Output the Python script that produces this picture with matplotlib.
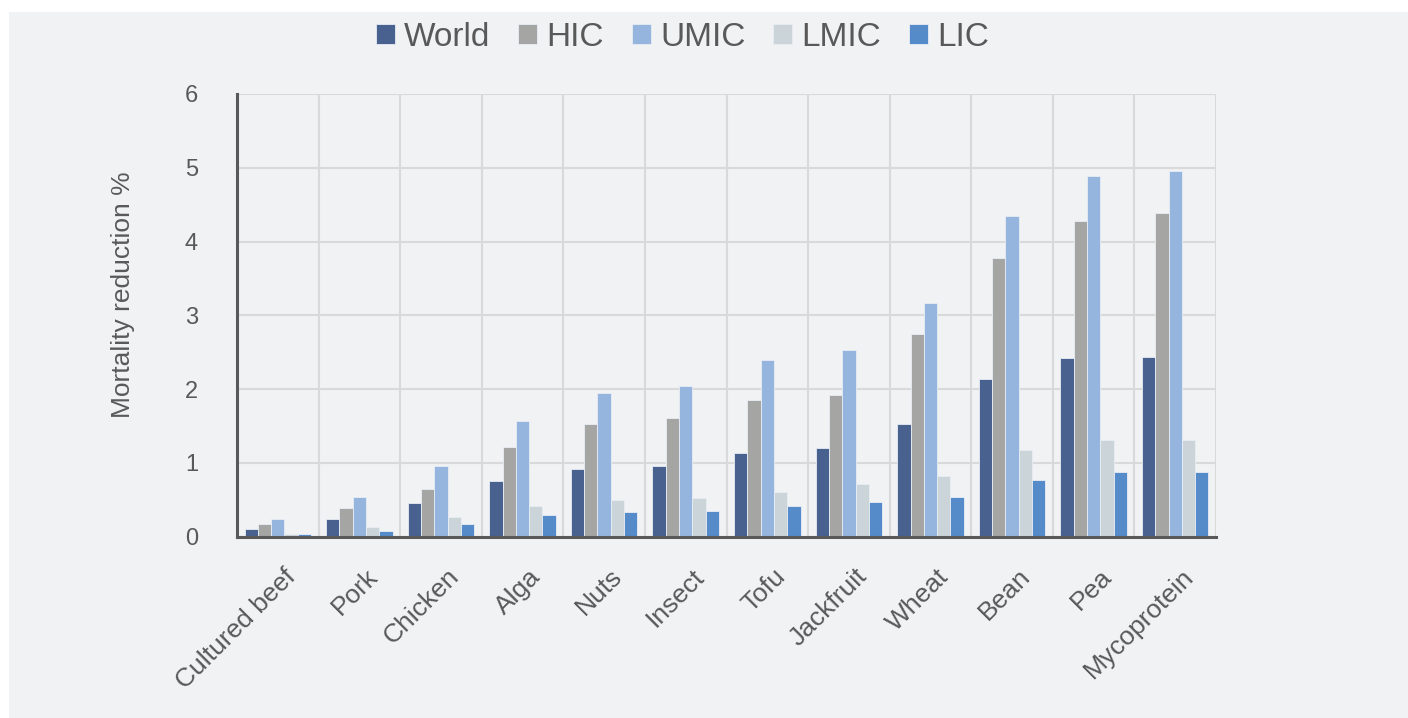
import matplotlib
matplotlib.use("Agg")
import matplotlib.pyplot as plt
import numpy as np
from matplotlib.patches import Rectangle
from matplotlib.transforms import ScaledTranslation

plt.rcParams['font.family'] = ['Liberation Sans', 'DejaVu Sans']

categories = ['Cultured beef', 'Pork', 'Chicken', 'Alga', 'Nuts', 'Insect',
              'Tofu', 'Jackfruit', 'Wheat', 'Bean', 'Pea', 'Mycoprotein']
world = [0.10, 0.24, 0.45, 0.75, 0.91, 0.96, 1.13, 1.20, 1.53, 2.13, 2.42, 2.44]
hic = [0.17, 0.39, 0.64, 1.22, 1.53, 1.61, 1.85, 1.92, 2.74, 3.77, 4.28, 4.38]
umic = [0.24, 0.53, 0.96, 1.57, 1.94, 2.04, 2.39, 2.53, 3.16, 4.35, 4.89, 4.96]
lmic = [0.04, 0.13, 0.26, 0.42, 0.49, 0.52, 0.61, 0.71, 0.82, 1.17, 1.31, 1.31]
lic = [0.03, 0.08, 0.17, 0.29, 0.33, 0.35, 0.42, 0.47, 0.54, 0.77, 0.87, 0.87]

series = [('World', world, '#48618f'),
          ('HIC', hic, '#a5a5a4'),
          ('UMIC', umic, '#96b5de'),
          ('LMIC', lmic, '#cad4d9'),
          ('LIC', lic, '#558bc9')]

bg = '#f1f2f4'
txt = '#595959'

fig = plt.figure(figsize=(14.08, 7.18), dpi=100)
fig.patch.set_facecolor('white')
fig.patches.append(Rectangle((9 / 1408, 0), 1 - 9 / 1408, 1 - 12 / 718,
                             transform=fig.transFigure, facecolor=bg,
                             edgecolor='none', zorder=-10))

ax = fig.add_axes([237 / 1408, 1 - 536.5 / 718, 979 / 1408, 442.5 / 718])
ax.set_facecolor(bg)

x = np.arange(len(categories))
w = 0.163
for i, (name, vals, col) in enumerate(series):
    ax.bar(x + (i - 2) * w, vals, width=w, color=col, label=name,
           edgecolor='#e8edf5', linewidth=0.6, zorder=3)

ax.set_xlim(-0.5, len(categories) - 0.5)
ax.set_ylim(0, 6)
ax.set_yticks(range(0, 7))
ax.set_xticks(x)
ax.set_xticks(np.arange(-0.5, len(categories)), minor=True)
ax.grid(axis='y', which='major', color='#d9d9d9', linewidth=1.5, zorder=0)
ax.grid(axis='x', which='minor', color='#d9d9d9', linewidth=1.5, zorder=0)
ax.set_axisbelow(True)

for s in ['top', 'right']:
    ax.spines[s].set_visible(False)
for s in ['left', 'bottom']:
    ax.spines[s].set_color('#595959')
    ax.spines[s].set_linewidth(2.2)
    ax.spines[s].set_zorder(4)

ax.tick_params(axis='both', which='both', length=0, colors=txt)
ax.tick_params(axis='y', pad=28, labelsize=17)
ax.tick_params(axis='x', pad=20, labelsize=19)
ax.set_xticklabels(categories, rotation=45, ha='right', va='top',
                   rotation_mode='anchor')
offset = ScaledTranslation(6 / 100, 0, fig.dpi_scale_trans)
for lbl in ax.get_xticklabels():
    lbl.set_transform(lbl.get_transform() + offset)

ax.set_ylabel('Mortality reduction %', fontsize=19, color=txt)
ax.yaxis.set_label_coords(-0.104, 0.546)

fig.legend(loc='center', bbox_to_anchor=(0.4847, 0.948), ncol=5, frameon=False,
           fontsize=24, labelcolor=txt, handlelength=0.57, handleheight=0.57,
           handletextpad=0.27, columnspacing=0.84, borderaxespad=0)

fig.savefig('out.png', dpi=100, facecolor=fig.get_facecolor())
